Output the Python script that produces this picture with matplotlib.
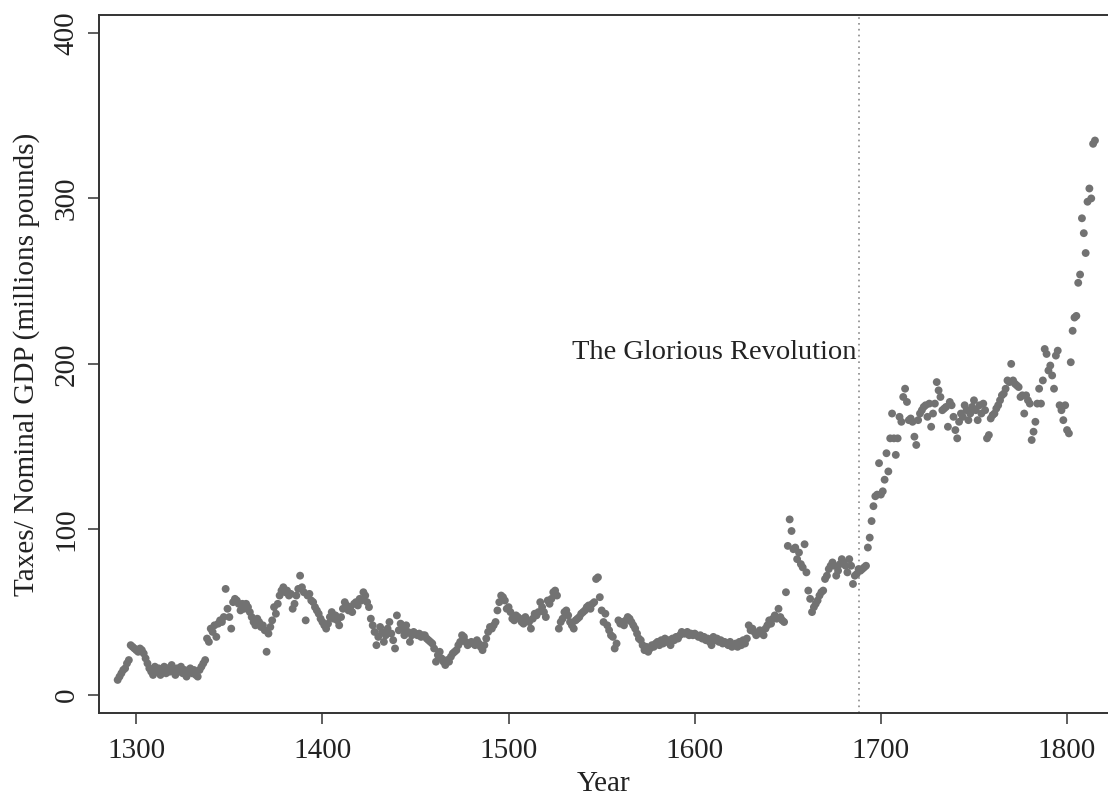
import numpy as np
import matplotlib
matplotlib.use("Agg")
import matplotlib.pyplot as plt

plt.rcParams['font.family'] = ['Liberation Serif', 'DejaVu Serif']

DOT = "#727272"
REVOLUTION = 1688

# annual series, taxes relative to nominal GDP, 1290-1815
vals_1290s = [9, 11, 13, 15, 16, 19, 21, 30, 29, 28]
vals_1300s = [
    27, 26, 28, 27, 25, 22, 19, 16, 14, 12,
    17, 14, 16, 12, 15, 17, 13, 16, 14, 18,
    15, 12, 16, 14, 17, 13, 15, 11, 14, 16,
    13, 15, 12, 11, 15, 17, 19, 21, 34, 32,
    40, 38, 42, 35, 43, 45, 44, 47, 64, 52,
    47, 40, 56, 58, 57, 55, 51, 55, 52, 55,
    53, 50, 47, 44, 42, 46, 44, 41, 42, 39,
    26, 37, 41, 45, 53, 49, 55, 60, 63, 65,
    62, 63, 60, 61, 52, 55, 60, 64, 72, 65,
    62, 45, 60, 61, 57, 56, 53, 51, 49, 46,
]
vals_1400s = [
    44, 42, 40, 43, 47, 50, 46, 48, 45, 42,
    47, 52, 56, 54, 51, 53, 50, 55, 56, 54,
    58, 57, 62, 60, 56, 53, 46, 42, 38, 30,
    35, 41, 38, 32, 36, 40, 44, 37, 33, 28,
    48, 39, 43, 40, 36, 42, 38, 32, 36, 38,
    37, 36, 37, 35, 36, 36, 34, 33, 32, 31,
    28, 20, 24, 26, 22, 20, 18, 21, 20, 23,
    25, 26, 27, 30, 32, 36, 35, 32, 30, 31,
    32, 31, 30, 33, 31, 29, 27, 30, 34, 38,
    41, 40, 42, 44, 51, 56, 60, 59, 57, 52,
]
vals_1500s = [
    53, 50, 46, 45, 48, 47, 46, 44, 43, 47,
    45, 44, 40, 46, 49, 48, 50, 56, 53, 50,
    47, 57, 55, 58, 62, 63, 60, 40, 44, 46,
    50, 51, 48, 44, 42, 40, 45, 46, 47, 49,
    50, 51, 53, 54, 52, 55, 56, 70, 71, 59,
    51, 44, 49, 42, 39, 36, 35, 28, 31, 45,
    43, 44, 42, 45, 47, 46, 44, 42, 40, 37,
    34, 33, 30, 27, 29, 26, 28, 30, 29, 31,
    32, 30, 33, 31, 34, 32, 33, 30, 34, 33,
    35, 34, 36, 38, 37, 37, 38, 36, 37, 36,
]
vals_1600s = [
    37, 36, 35, 36, 34, 35, 33, 34, 32, 30,
    35, 33, 34, 32, 33, 31, 32, 31, 30, 32,
    29, 30, 31, 29, 32, 30, 33, 31, 34, 42,
    39, 40, 38, 36, 37, 39, 38, 36, 40, 42,
    45, 43, 46, 48, 46, 52, 47, 45, 44, 62,
    90, 106, 99, 88, 89, 82, 86, 79, 77, 91,
    74, 63, 58, 50, 53, 55, 57, 60, 62, 63,
    70, 72, 76, 78, 80, 78, 72, 75, 79, 82,
    80, 78, 74, 82, 78, 67, 72, 73, 76, 75,
    76, 77, 78, 89, 95, 105, 114, 120, 121, 140,
]
vals_1700s = [
    121, 123, 130, 146, 135, 155, 170, 155, 145, 155,
    168, 165, 180, 185, 177, 166, 167, 165, 156, 151,
    166, 170, 172, 174, 175, 168, 176, 162, 170, 176,
    189, 184, 180, 172, 173, 174, 162, 177, 175, 168,
    160, 155, 165, 170, 168, 175, 172, 166, 170, 174,
    178, 172, 166, 175, 170, 176, 172, 155, 157, 167,
    169, 170, 173, 175, 178, 181, 182, 185, 190, 189,
    200, 190, 188, 187, 186, 180, 181, 170, 181, 178,
    176, 154, 159, 165, 176, 185, 176, 190, 209, 206,
    196, 199, 193, 185, 205, 208, 175, 172, 166, 175,
]
vals_1800s = [160, 158, 201, 220, 228, 229, 249, 254, 288, 279,
              267, 298, 306, 300, 333, 335]

taxes = np.array(vals_1290s + vals_1300s + vals_1400s + vals_1500s
                 + vals_1600s + vals_1700s + vals_1800s)
years = np.arange(1290, 1290 + len(taxes))

x_ticks = [1300, 1400, 1500, 1600, 1700, 1800]
y_ticks = [0, 100, 200, 300, 400]

fig = plt.figure(figsize=(11.08, 7.98), dpi=100)
ax = fig.add_axes([0.0894, 0.1065, 0.9106, 0.875])

ax.scatter(years, taxes, s=32, color=DOT, edgecolors="none", zorder=3)
ax.axvline(REVOLUTION, color="#8a8a8a", linestyle=(0, (1, 2.5)), linewidth=1.2)
ax.text(REVOLUTION - 1, 207, "The Glorious Revolution", ha="right",
        va="center", fontsize=20.5, color="#222222")

ax.set_xlim(1280, 1822)
ax.set_ylim(-11, 411)
ax.set_xticks(x_ticks)
ax.set_yticks(y_ticks)
ax.set_yticklabels([str(v) for v in y_ticks], rotation=90, va="center")

ax.tick_params(axis="both", direction="out", length=8, width=1.1,
               color="#333333", labelsize=21, labelcolor="#222222")
ax.tick_params(axis="x", pad=10)
ax.tick_params(axis="y", pad=6)
ax.set_xlabel("Year", fontsize=21, color="#222222", labelpad=5)
ax.set_ylabel("Taxes/ Nominal GDP (millions pounds)", fontsize=21,
              color="#222222", labelpad=10)

for side in ["left", "bottom", "top"]:
    ax.spines[side].set_color("#333333")
    ax.spines[side].set_linewidth(1.4)
ax.spines["right"].set_visible(False)

fig.savefig("out.png", dpi=100)
